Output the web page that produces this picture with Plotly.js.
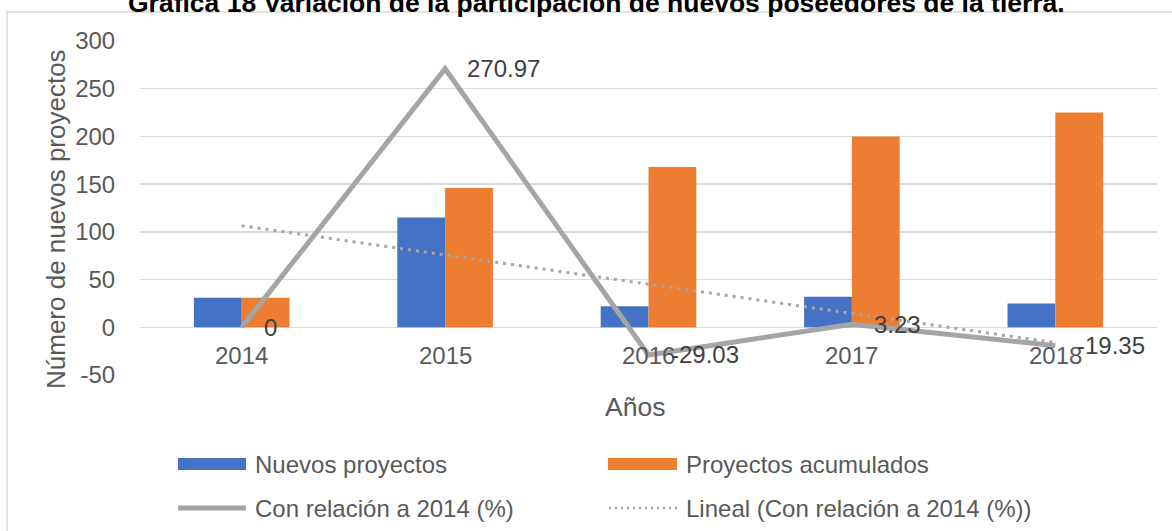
<!DOCTYPE html>
<html>
<head>
<meta charset="utf-8">
<script src="https://cdn.plot.ly/plotly-3.0.1.min.js"></script>
<style>html,body{margin:0;padding:0;background:#fff;}#chart{width:1172px;height:531px;}</style>
</head>
<body>
<div id="chart"></div>
<script>
// ---- data ----
const categories = ['2014', '2015', '2016', '2017', '2018'];
const nuevosProyectos = [31, 115, 22, 32, 25];
const proyectosAcumulados = [31, 146, 168, 200, 225];
const relacion2014 = [0, 270.97, -29.03, 3.23, -19.35];
const relacionLabels = ['0', '270.97', '-29.03', '3.23', '-19.35'];
const linealTrend = [106.45, 75.81, 45.16, 14.52, -16.12];
const yTicks = [-50, 0, 50, 100, 150, 200, 250, 300];

const titleText = 'Gráfica 18 Variación de la participación de nuevos poseedores de la tierra.';
const yTitle = 'Número de nuevos proyectos';
const xTitle = 'Años';
const legendNames = ['Nuevos proyectos', 'Proyectos acumulados', 'Con relación a 2014 (%)', 'Lineal (Con relación a 2014 (%))'];

// ---- layout geometry (pixels) ----
const W = 1172, H = 531;
const M = {l: 140, r: W - 1157, t: 41, b: H - 375};
const PW = W - M.l - M.r, PH = H - M.t - M.b;
const px = x => (x - M.l) / PW;
const py = y => (H - M.b - y) / PH;

const FONT = 'Liberation Sans, Arial, sans-serif';
const BLUE = '#4472C4', ORANGE = '#ED7D31', GRAY = '#A5A5A5', GRID = '#D9D9D9';
const TXT = '#595959';
const DOTS = '3px,5px';

const traces = [
  {type: 'bar', x: categories, y: nuevosProyectos, name: legendNames[0], marker: {color: BLUE}},
  {type: 'bar', x: categories, y: proyectosAcumulados, name: legendNames[1], marker: {color: ORANGE}},
  {type: 'scatter', mode: 'lines', x: categories, y: relacion2014, name: legendNames[2],
   line: {color: GRAY, width: 5}},
  {type: 'scatter', mode: 'lines', x: categories, y: linealTrend, name: legendNames[3],
   line: {color: GRAY, width: 3, dash: DOTS}}
];

const annotations = [];
// category labels near the zero line
categories.forEach((c, i) => annotations.push({
  x: i, y: 0, xref: 'x', yref: 'y', text: c, showarrow: false,
  xanchor: 'center', yanchor: 'middle', yshift: -28,
  font: {family: FONT, size: 24, color: TXT}
}));
// data labels
categories.forEach((c, i) => annotations.push({
  x: i, y: relacion2014[i], xref: 'x', yref: 'y', text: relacionLabels[i], showarrow: false,
  xanchor: 'left', yanchor: 'middle', xshift: 20,
  font: {family: FONT, size: 24, color: '#404040'}
}));
// title
annotations.push({x: px(596), y: py(20), xref: 'paper', yref: 'paper', text: '<b>' + titleText + '</b>',
  showarrow: false, xanchor: 'center', yanchor: 'bottom', font: {family: FONT, size: 26.5, color: '#000'}});
// axis titles
annotations.push({x: px(635), y: py(407), xref: 'paper', yref: 'paper', text: xTitle, showarrow: false,
  xanchor: 'center', yanchor: 'middle', font: {family: FONT, size: 26.5, color: TXT}});
annotations.push({x: px(56), y: py(219), xref: 'paper', yref: 'paper', text: yTitle, showarrow: false,
  textangle: -90, xanchor: 'center', yanchor: 'middle', font: {family: FONT, size: 26, color: TXT}});
// legend texts
const legPos = [[253, 464], [684, 464], [253, 508], [684, 508]];
legendNames.forEach((n, i) => annotations.push({
  x: px(legPos[i][0]), y: py(legPos[i][1]), xref: 'paper', yref: 'paper', text: n, showarrow: false,
  xanchor: 'left', yanchor: 'middle', font: {family: FONT, size: 24, color: TXT}
}));

const shapes = [
  // chart border
  {type: 'rect', xref: 'paper', yref: 'paper', x0: px(7), x1: px(1190), y0: py(12), y1: py(560),
   line: {color: GRID, width: 1.5}, fillcolor: 'rgba(0,0,0,0)', layer: 'below'},
  // legend swatches
  {type: 'rect', xref: 'paper', yref: 'paper', x0: px(178), x1: px(246), y0: py(458), y1: py(470),
   line: {width: 0}, fillcolor: BLUE},
  {type: 'rect', xref: 'paper', yref: 'paper', x0: px(608), x1: px(677), y0: py(458), y1: py(470),
   line: {width: 0}, fillcolor: ORANGE},
  {type: 'line', xref: 'paper', yref: 'paper', x0: px(178), x1: px(246), y0: py(508), y1: py(508),
   line: {color: GRAY, width: 5}},
  {type: 'line', xref: 'paper', yref: 'paper', x0: px(609), x1: px(677), y0: py(508), y1: py(508),
   line: {color: GRAY, width: 2.5, dash: '2px,4px'}}
];

const layout = {
  width: W, height: H,
  margin: M,
  paper_bgcolor: '#fff', plot_bgcolor: '#fff',
  showlegend: false,
  barmode: 'group', bargap: 0.53, bargroupgap: 0,
  xaxis: {type: 'category', range: [-0.5, 4.5], autorange: false, showticklabels: false,
          showgrid: false, zeroline: false, showline: false, ticks: ''},
  yaxis: {range: [-50, 300], autorange: false, tickvals: yTicks, ticktext: yTicks.map(String),
          showgrid: true, gridcolor: GRID, gridwidth: 1.5,
          zeroline: true, zerolinecolor: GRID, zerolinewidth: 1.5, showline: false,
          ticks: 'outside', ticklen: 19, tickcolor: 'rgba(0,0,0,0)',
          tickfont: {family: FONT, size: 24, color: TXT}},
  annotations: annotations,
  shapes: shapes
};

Plotly.newPlot('chart', traces, layout, {displayModeBar: false, staticPlot: true});
</script>
</body>
</html>
